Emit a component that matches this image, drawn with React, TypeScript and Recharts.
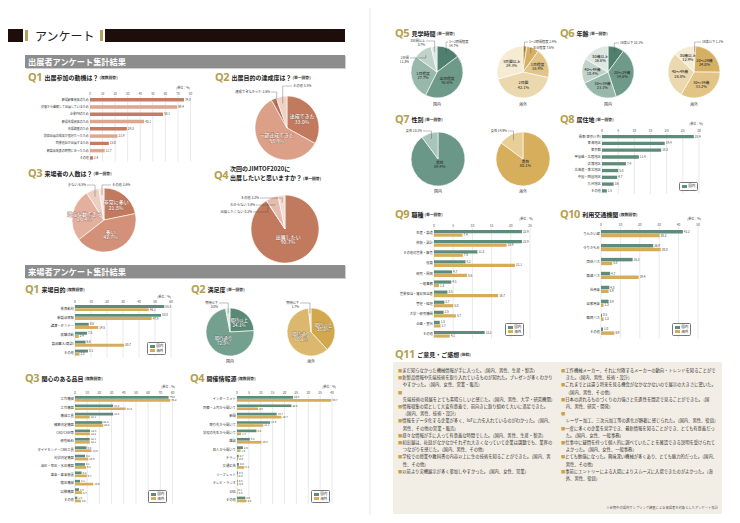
import React from 'react';
import { BarChart, Bar, XAxis, YAxis, CartesianGrid, LabelList, Cell, PieChart, Pie } from 'recharts';

const FONT = '"Noto Sans CJK JP", "Noto Sans", sans-serif';
const GREEN = '#5e8c7b';
const GOLD = '#d5ac5a';
const SAL_D = '#c47c62';
const SAL_L = '#dfa58d';
const QCOL = '#b3a04f';

// ---------------- data ----------------
const exQ1Cats = ['新規顧客開拓のため', '従来から継続して出展しているため', '企業PRのため', '新規市場開拓のため', '市場調査のため', '前回出展の成果が良好だったため', '同業他社が出展するため', '新製品発表の時期に合ったため', 'その他'];
const exQ1Vals = [74.8, 69.4, 58.1, 43.1, 29.3, 21.9, 15.0, 11.7, 2.4];

const exQ2Names = ['達成できた', '一部達成できた', '達成できなかった', 'その他'];
const exQ2Vals = [33.0, 58.9, 2.6, 5.5];

const exQ3Names = ['非常に多い', '多い', '適当な数である', '少ない', 'その他'];
const exQ3Vals = [21.8, 42.7, 26.4, 6.5, 2.6];

const exQ4Names = ['出展したい', '出展したくない', 'わからない', 'その他'];
const exQ4Vals = [90.7, 0.2, 5.8, 3.3];

const vQ1Cats = ['業界動向', '新製品情報', '講演・セミナー', '就職活動', '製品購入(商談)', 'その他'];
const vQ1Dom = [55.8, 53.8, 8.6, 7.5, 6.6, 8.1];
const vQ1Ovs = [46.1, 47.9, 14.5, 2.4, 30.7, 2.8];

const vQ2Names = ['期待以上', '期待通り', '期待以下'];
const vQ2Dom = [24.1, 72.9, 3.0];
const vQ2Ovs = [38.2, 60.1, 1.7];

const vQ3Cats = ['工作機械', '工作機器', '機械工具', '精密測定機器', 'CAD/CAM等', '研削砥石', 'ダイヤモンド・CBN工具', '光学測定機器', '油圧・空圧・水圧機器', '歯車・歯車装置', '鍛圧機械', '試験機器', 'その他'];
const vQ3Dom = [76.8, 31.3, 31.3, 22.4, 12.3, 12.1, 9.4, 8.2, 8.1, 5.4, 4.1, 3.3, 1.9];
const vQ3Ovs = [78.2, 41.6, 12.1, 23.2, 12.2, 12.1, 13.5, 10.9, 9.1, 9.7, 15.0, 5.7, 4.8];

const vQ4Cats = ['インターネット', '同僚・上司から聞いて', '新聞', '取引先から聞いて', '学校の先生から聞いて', '雑誌', '知人から聞いて', 'チラシ', '交通広告', 'リーフレット', 'テレビ・ラジオ', 'SNS', 'その他'];
const vQ4Dom = [23.6, 22.9, 16.7, 13.9, 8.2, 5.4, 2.5, 0.7, 0.8, 0.4, 0.3, 0.1, 3.5];
const vQ4Ovs = [39.7, 8.9, 18.7, 11.1, 1.7, 10.3, 1.5, 0.5, 3.1, 0.3, 0.5, 0.3, 4.0];

const q5Names = ['1～2時間程度', '半日程度', '1日程度', '2日間', '3日間以上'];
const q5Dom = [14.7, 42.6, 27.7, 11.3, 3.7];
const q5Ovs = [2.4, 7.6, 18.4, 42.1, 29.3];

const q6Names = ['19歳以下', '20～29歳', '30～39歳', '40～49歳', '50歳以上'];
const q6Dom = [10.1, 34.8, 23.1, 15.4, 16.6];
const q6Ovs = [1.1, 24.0, 33.2, 28.8, 12.9];

const q7Names = ['男性', '女性'];
const q7Dom = [89.9, 10.1];
const q7Ovs = [85.1, 14.9];

const q8Cats = ['関東(東京以外)', '東海地区', '東京都', '甲信越・北陸地区', '近畿地区', '北海道・東北地区', '中国・四国地区', '九州地区', 'その他'];
const q8Vals = [28.4, 19.4, 18.3, 11.4, 7.4, 5.0, 4.7, 3.6, 1.5];

const q9Cats = ['生産・製造', '技術・設計', 'その他の営業・販売', '役員', '研究・開発', '一般事務', '営業担当・貿易担当者', '管理・経理', '大学・研究機関', '企画・宣伝', 'その他'];
const q9Dom = [22.9, 22.9, 11.3, 8.2, 4.7, 4.5, 3.5, 2.7, 2.5, 1.5, 13.2];
const q9Ovs = [7.4, 18.9, 7.5, 21.1, 8.6, 1.3, 16.7, 5.0, 5.7, 1.7, 4.1];

const q10Cats = ['りんかい線', 'ゆりかもめ', '団体バス', '路線バス', '社用車', '自家用車', '臨時バス', 'その他'];
const q10Dom = [42.2, 26.9, 16.3, 4.7, 4.3, 3.9, 0.5, 1.0];
const q10Ovs = [30.2, 30.8, 5.8, 19.4, 3.9, 1.3, 1.3, 6.9];

const ticks80 = [0, 10, 20, 30, 40, 50, 60, 70, 80];
const ticks60 = [0, 10, 20, 30, 40, 50, 60];
const ticks40 = [0, 5, 10, 15, 20, 25, 30, 35, 40];
const ticks30 = [0, 5, 10, 15, 20, 25, 30];
const ticks25 = [0, 5, 10, 15, 20, 25];
const ticks50 = [0, 10, 20, 30, 40, 50];

const commentsLeft = [
  'まだ知らなかった機械情報が手に入った。（国内、男性、生産・製造）',
  '新製品情報や先端技術を取り入れているものが知れた。プレゼンが多くわかりやすかった。（国内、女性、営業・販売）',
  '先端技術の発展をとても素晴らしいと感じた。（国内、男性、大学・研究機関）',
  '情報収集の場として大変有意義で、前向きに取り組めて大いに満足できた。（国内、男性、技術・設計）',
  '情報をデータ化する企業が多く、IoTに力を入れているのがわかった。（国内、男性、その他の営業・販売）',
  '様々な情報が手に入って有意義な時間でした。（国内、男性、生産・製造）',
  '初出展は、社員がなかなかそれぞれ大きくなっていて企業は課題でも、業界のつながりを感じた。（国内、男性、その他）',
  '学校での授業や教科書の内容以上に生の技術を知ることができた。（国内、男性、その他）',
  '以前より実機展示が多く参加しやすかった。（国内、女性、営業）',
];
const commentsRight = [
  '工作機械メーカー、それに付随するメーカーの動向・トレンドを知ることができた。（国内、男性、技術・設計）',
  'これまでとは違う将来を見る機会がなかなかないので展示の大きさに驚いた。（国内、男性、その他）',
  '日本の誇れるものづくりの力強さと先進性を間近で見ることができた。（国内、男性、研究・開発）',
  'レーザー加工、三次元加工等の進化が顕著に感じられた。（国内、男性、役員）',
  '一度に多くの企業を見学でき、最新情報を知ることができ、とても有意義だった。（国内、女性、一般事務）',
  '仕事中に疑問を持って個人的に調べていたことを確認できる説明を受けられてよかった。（国内、女性、一般事務）',
  'とても勉強になった。興味深い機械が多くあり、とても魅力的だった。（国内、男性、その他）',
  '事前にエントリーによる入場によりスムーズに入場できたのがよかった。（海外、男性、役員）',
];

// ---------------- tables ----------------
const one = (cats: string[], vals: number[]) => cats.map((name, i) => ({ name, v: vals[i] }));
const two = (cats: string[], a: number[], b: number[]) => cats.map((name, i) => ({ name, dom: a[i], ovs: b[i] }));

const GREENS = ['#4f806f', '#6e9a8a', '#98b8ac', '#bfd3cb', '#dde8e3'];
const GOLDS = ['#c49a45', '#d6b062', '#e2c487', '#ecd8ae', '#f6ebd3'];

// ---------------- components ----------------
function HBar(p: any) {
  const { x0, x1, y0, y1, labelW, max, ticks, data, series, barSize, gap = 0.3, fs = 3.3, vfs = 3.0, cellColors } = p;
  const mr = 12;
  const left = x0 - labelW - 1;
  const top = y0 - 9;
  const width = x1 - left + mr;
  const height = y1 - top + 1;
  return (
    <div style={{ position: 'absolute', left, top, width, height }}>
      <BarChart width={width} height={height} data={data} layout="vertical"
        margin={{ top: 0, right: mr, bottom: 1, left: 1 }} barGap={gap}>
        <CartesianGrid horizontal={false} stroke="#c8c8c8" strokeWidth={0.4} />
        <XAxis type="number" orientation="top" domain={[0, max]} ticks={ticks} height={9}
          axisLine={false} tickLine={false} tickSize={0} tickMargin={1.5} interval={0}
          tick={{ fontSize: fs, fill: '#555', fontFamily: FONT }} />
        <YAxis type="category" dataKey="name" width={labelW} axisLine={false} tickLine={false}
          tickSize={0} tickMargin={1.2} interval={0} tick={{ fontSize: fs, fill: '#333', fontFamily: FONT }} />
        {series.map((s: any) => (
          <Bar key={s.key} dataKey={s.key} fill={s.color} barSize={barSize} isAnimationActive={false}>
            {cellColors ? data.map((_: any, j: number) => <Cell key={j} fill={cellColors[j % cellColors.length]} />) : null}
            <LabelList dataKey={s.key} position="right" offset={1} fill="#444" fontSize={vfs} fontFamily={FONT}
              formatter={(v: any) => Number(v).toFixed(1)} />
          </Bar>
        ))}
      </BarChart>
    </div>
  );
}

function PieBlock(p: any) {
  const { cx, cy, r, names, values, colors, cfg, inColor = '#333', inStroke, fs = 4, ofs = 3.4, stroke = '#fff' } = p;
  const W = 200, H = 2 * r + 80;
  const pcx = W / 2, pcy = H / 2;
  const data = names.map((name: string, i: number) => ({ name, value: values[i] }));
  const RAD = Math.PI / 180;
  const render = (lp: any) => {
    const c = cfg[lp.index];
    if (!c) return null;
    const ang = -lp.midAngle * RAD;
    const name = names[lp.index];
    const val = values[lp.index].toFixed(1) + '%';
    if (c.t === 'in') {
      const x = lp.cx + r * c.rf * Math.cos(ang) + (c.ox || 0);
      const y = lp.cy + r * c.rf * Math.sin(ang) + (c.oy || 0);
      return (
        <text x={x} y={y} textAnchor="middle" fontSize={fs} fontFamily={FONT} fill={inColor}
          stroke={inStroke || 'none'} strokeWidth={inStroke ? 0.35 : 0} paintOrder="stroke" fontWeight={500}>
          <tspan x={x} dy="-0.15em">{name}</tspan>
          <tspan x={x} dy="1.1em">{val}</tspan>
        </text>
      );
    }
    const sr = c.sr || 0.78;
    const sx = lp.cx + r * sr * Math.cos(ang);
    const sy = lp.cy + r * sr * Math.sin(ang);
    const tx = lp.cx + c.dx;
    const ty = lp.cy + c.dy;
    const ex = c.anchor === 'end' ? tx + 1 : tx - 1;
    return (
      <g>
        <polyline points={`${ex},${ty} ${sx},${ty} ${sx},${sy}`} fill="none" stroke="#444" strokeWidth={0.35} />
        {c.two ? (
          <text x={tx} y={ty} textAnchor={c.anchor} fontSize={ofs} fontFamily={FONT} fill="#333">
            <tspan x={tx} dy="0.35em">{name}</tspan>
            <tspan x={tx} dy="1.15em">{val}</tspan>
          </text>
        ) : (
          <text x={tx} y={ty} dy="0.35em" textAnchor={c.anchor} fontSize={ofs} fontFamily={FONT} fill="#333">{name + ' ' + val}</text>
        )}
      </g>
    );
  };
  return (
    <div style={{ position: 'absolute', left: cx - pcx, top: cy - pcy, width: W, height: H }}>
      <PieChart width={W} height={H} margin={{ top: 0, right: 0, bottom: 0, left: 0 }}>
        <Pie data={data} dataKey="value" nameKey="name" cx={pcx} cy={pcy} outerRadius={r} innerRadius={0}
          startAngle={90} endAngle={-270} stroke={stroke} strokeWidth={0.6} isAnimationActive={false}
          label={render} labelLine={false}>
          {data.map((_: any, i: number) => <Cell key={i} fill={colors[i]} />)}
        </Pie>
      </PieChart>
    </div>
  );
}

function Title({ x, y, q, text, sub, fsT = 6 }: any) {
  return (
    <div style={{ position: 'absolute', left: x, top: y - 7, height: 14, display: 'flex', alignItems: 'center', whiteSpace: 'nowrap', fontFamily: FONT }}>
      <span style={{ fontSize: 11, color: QCOL, fontWeight: 700, letterSpacing: -0.5, marginRight: 2.5, lineHeight: '14px', fontFamily: '"Noto Sans", sans-serif' }}>{q}</span>
      <span style={{ fontSize: fsT, fontWeight: 700, color: '#222' }}>{text}</span>
      <span style={{ fontSize: 3.8, fontWeight: 700, color: '#333', marginLeft: 1 }}>{sub}</span>
    </div>
  );
}

function Txt({ x, y, children, fs = 3.3, color = '#444', anchor = 'start', weight = 400 }: any) {
  const tr = anchor === 'middle' ? 'translate(-50%,-50%)' : anchor === 'end' ? 'translate(-100%,-50%)' : 'translate(0,-50%)';
  return (
    <div style={{ position: 'absolute', left: x, top: y, transform: tr, fontSize: fs, color, fontFamily: FONT, whiteSpace: 'nowrap', lineHeight: 1, fontWeight: weight }}>{children}</div>
  );
}

function LegendBox({ x, y, items }: any) {
  return (
    <div style={{ position: 'absolute', left: x, top: y, border: '0.5px solid #777', borderRadius: 1.5, padding: '1px 1.6px', background: '#fff', fontFamily: FONT, fontSize: 3.6, lineHeight: '4.6px', color: '#333' }}>
      {items.map((it: any) => (
        <div key={it.label} style={{ display: 'flex', alignItems: 'center', whiteSpace: 'nowrap' }}>
          <span style={{ width: 5.5, height: 2.8, background: it.color, marginRight: 1.2, display: 'inline-block' }} />{it.label}
        </div>
      ))}
    </div>
  );
}

function Banner({ y, text }: any) {
  return (
    <div style={{ position: 'absolute', left: 25, top: y, width: 320, height: 12.5, background: '#8d8d8d', color: '#fff', fontFamily: FONT, fontSize: 8.2, fontWeight: 700, lineHeight: '12.5px', paddingLeft: 3, boxSizing: 'border-box', boxShadow: '1px 1px 0 #cfcfcf' }}>{text}</div>
  );
}

const LEG2 = [{ label: '国内', color: GREEN }, { label: '海外', color: GOLD }];

export default function App() {
  const exQ2Cfg = [
    { t: 'in', rf: 0.55 },
    { t: 'in', rf: 0.45 },
    { t: 'out', dx: -17, dy: -36, anchor: 'end' },
    { t: 'out', dx: 6, dy: -42, anchor: 'start' },
  ];
  const exQ3Cfg = [
    { t: 'in', rf: 0.6 },
    { t: 'in', rf: 0.5 },
    { t: 'in', rf: 0.62 },
    { t: 'out', dx: -18, dy: -35, anchor: 'end' },
    { t: 'out', dx: 8, dy: -35, anchor: 'start' },
  ];
  const exQ4Cfg = [
    { t: 'in', rf: 0.32 },
    { t: 'out', dx: -33, dy: -17, anchor: 'end', sr: 0.92 },
    { t: 'out', dx: -30, dy: -24, anchor: 'end' },
    { t: 'out', dx: -26, dy: -31, anchor: 'end' },
  ];
  const vQ2Cfg = [
    { t: 'in', rf: 0.55 },
    { t: 'in', rf: 0.45 },
    { t: 'out', dx: -12, dy: -29, anchor: 'end', two: true },
  ];
  const q5DomCfg = [
    { t: 'out', dx: 12, dy: -30, anchor: 'start', two: true },
    { t: 'in', rf: 0.5 },
    { t: 'in', rf: 0.55 },
    { t: 'out', dx: -28, dy: -14, anchor: 'end', two: true },
    { t: 'out', dx: -12, dy: -31, anchor: 'end', two: true },
  ];
  const q5OvsCfg = [
    { t: 'out', dx: 6, dy: -30, anchor: 'start' },
    { t: 'out', dx: 10, dy: -24, anchor: 'start' },
    { t: 'in', rf: 0.6 },
    { t: 'in', rf: 0.5 },
    { t: 'in', rf: 0.55 },
  ];
  const q6DomCfg = [
    { t: 'out', dx: 12, dy: -29, anchor: 'start' },
    { t: 'in', rf: 0.55 },
    { t: 'in', rf: 0.55 },
    { t: 'in', rf: 0.6 },
    { t: 'in', rf: 0.6 },
  ];
  const q6OvsCfg = [
    { t: 'out', dx: 8, dy: -30, anchor: 'start' },
    { t: 'in', rf: 0.55 },
    { t: 'in', rf: 0.55 },
    { t: 'in', rf: 0.55 },
    { t: 'in', rf: 0.6 },
  ];
  const q7Cfg = [
    { t: 'in', rf: 0.2 },
    { t: 'out', dx: -16, dy: -28, anchor: 'end' },
  ];

  return (
    <div style={{ position: 'relative', width: 740, height: 523, background: '#fff', overflow: 'hidden', fontFamily: FONT, margin: -8 }}>
      {/* top bars */}
      <div style={{ position: 'absolute', left: 0, top: 0, width: 369, height: 7, background: '#8a8a8a' }} />
      <div style={{ position: 'absolute', left: 371, top: 0, width: 369, height: 7, background: '#8a8a8a' }} />
      <div style={{ position: 'absolute', left: 369, top: 0, width: 2, height: 523, background: 'linear-gradient(90deg,#eee,#f8f8f8)' }} />

      {/* header */}
      <div style={{ position: 'absolute', left: 0, top: 29, width: 23, height: 13, background: '#1d0e0b' }} />
      <div style={{ position: 'absolute', left: 25, top: 30, width: 2.5, height: 11, background: '#b7a058' }} />
      <div style={{ position: 'absolute', left: 35, top: 28, fontSize: 12, lineHeight: '15px', color: '#222', fontFamily: FONT }}>アンケート</div>
      <div style={{ position: 'absolute', left: 100, top: 30, width: 2.5, height: 11, background: '#b7a058' }} />
      <div style={{ position: 'absolute', left: 105, top: 29, width: 240, height: 13, background: '#1d0e0b' }} />

      <Banner y={55} text="出展者アンケート集計結果" />

      {/* Exhibitor Q1 */}
      <Title x={28} y={77} q="Q1" text="出展参加の動機は？" sub="(複数回答)" />
      <Txt x={190} y={88} fs={3} anchor="end">(単位：%)</Txt>
      <HBar x0={90} x1={190.5} y0={95.5} y1={161} labelW={62} max={80} ticks={ticks80}
        data={one(exQ1Cats, exQ1Vals)} series={[{ key: 'v', color: SAL_D }]} cellColors={[SAL_D, SAL_L]}
        barSize={3.4} fs={3} vfs={3} />

      {/* Exhibitor Q2 */}
      <Title x={215} y={77} q="Q2" text="出展目的の達成度は？" sub="(単一回答)" />
      <PieBlock cx={287} cy={128} r={32} names={exQ2Names} values={exQ2Vals}
        colors={['#c27a5f', '#dca088', '#b9735a', '#f0d2c5']} cfg={exQ2Cfg} inColor="#fff" inStroke="#8a4a36" fs={5} ofs={3.3} />

      {/* Exhibitor Q3 */}
      <Title x={28} y={173} q="Q3" text="来場者の人数は？" sub="(単一回答)" />
      <PieBlock cx={104} cy={220} r={32} names={exQ3Names} values={exQ3Vals}
        colors={['#c27a5f', '#d4917a', '#e2b09d', '#edcfc2', '#f6e6de']} cfg={exQ3Cfg} inColor="#fff" inStroke="#8a4a36" fs={5} ofs={3.3} />

      {/* Exhibitor Q4 */}
      <div style={{ position: 'absolute', left: 214, top: 168, fontSize: 11, color: QCOL, fontWeight: 700, fontFamily: '"Noto Sans", sans-serif', lineHeight: '14px', letterSpacing: -0.5 }}>Q4</div>
      <div style={{ position: 'absolute', left: 230, top: 165, fontSize: 6, fontWeight: 700, color: '#222', fontFamily: FONT, lineHeight: '8.5px', whiteSpace: 'nowrap' }}>
        次回のJIMTOF2020に<br />出展したいと思いますか？<span style={{ fontSize: 3.8, marginLeft: 1 }}>(単一回答)</span>
      </div>
      <PieBlock cx={285} cy={229} r={34} names={exQ4Names} values={exQ4Vals}
        colors={['#c27a5f', '#d8998a', '#e6bcae', '#f3ddd4']} cfg={exQ4Cfg} inColor="#fff" inStroke="#8a4a36" fs={5} ofs={3.3} />

      <Banner y={265} text="来場者アンケート集計結果" />

      {/* Visitor Q1 */}
      <Title x={25} y={289} q="Q1" text="来場目的" sub="(複数回答)" />
      <Txt x={171} y={297} fs={3} anchor="end">(単位：%)</Txt>
      <HBar x0={74.5} x1={170.5} y0={304} y1={357.5} labelW={45} max={60} ticks={ticks60}
        data={two(vQ1Cats, vQ1Dom, vQ1Ovs)} series={[{ key: 'dom', color: GREEN }, { key: 'ovs', color: GOLD }]}
        barSize={2.9} />
      <LegendBox x={147} y={342} items={LEG2} />

      {/* Visitor Q2 */}
      <Title x={191} y={289} q="Q2" text="満足度" sub="(単一回答)" />
      <PieBlock cx={230} cy={332} r={24} names={vQ2Names} values={vQ2Dom}
        colors={['#5b8978', '#74a090', '#dfe9e5']} cfg={vQ2Cfg} inColor="#fff" inStroke="#2f5447" fs={4.4} ofs={3.2} />
      <PieBlock cx={311} cy={332} r={24} names={vQ2Names} values={vQ2Ovs}
        colors={['#d2a84f', '#dcb86e', '#f2e3c1']} cfg={vQ2Cfg} inColor="#fff" inStroke="#7a5a1c" fs={4.4} ofs={3.2} />
      <Txt x={230} y={361} fs={4} anchor="middle" color="#333">国内</Txt>
      <Txt x={311} y={361} fs={4} anchor="middle" color="#333">海外</Txt>

      {/* Visitor Q3 */}
      <Title x={25} y={378} q="Q3" text="関心のある品目" sub="(複数回答)" />
      <Txt x={175} y={387} fs={3} anchor="end">(単位：%)</Txt>
      <HBar x0={74.5} x1={172} y0={395} y1={504} labelW={50} max={80} ticks={ticks80}
        data={two(vQ3Cats, vQ3Dom, vQ3Ovs)} series={[{ key: 'dom', color: GREEN }, { key: 'ovs', color: GOLD }]}
        barSize={2.7} gap={0.3} vfs={2.7} />
      <LegendBox x={148} y={490} items={LEG2} />

      {/* Visitor Q4 */}
      <Title x={190} y={378} q="Q4" text="開催情報源" sub="(複数回答)" />
      <Txt x={336} y={387} fs={3} anchor="end">(単位：%)</Txt>
      <HBar x0={237} x1={332} y0={395} y1={504} labelW={50} max={40} ticks={ticks40}
        data={two(vQ4Cats, vQ4Dom, vQ4Ovs)} series={[{ key: 'dom', color: GREEN }, { key: 'ovs', color: GOLD }]}
        barSize={2.7} gap={0.3} vfs={2.7} />
      <LegendBox x={311} y={490} items={LEG2} />

      {/* ---------- right page ---------- */}
      <Title x={395} y={33} q="Q5" text="見学時間" sub="(単一回答)" />
      <PieBlock cx={437} cy={72} r={26} names={q5Names} values={q5Dom} colors={GREENS} cfg={q5DomCfg} fs={3.8} ofs={3.2} />
      <PieBlock cx={523} cy={72} r={26} names={q5Names} values={q5Ovs} colors={GOLDS} cfg={q5OvsCfg} fs={3.8} ofs={3.2} />
      <Txt x={437} y={104} fs={4} anchor="middle" color="#333">国内</Txt>
      <Txt x={523} y={104} fs={4} anchor="middle" color="#333">海外</Txt>

      <Title x={560} y={33} q="Q6" text="年齢" sub="(単一回答)" />
      <PieBlock cx={608} cy={72} r={26} names={q6Names} values={q6Dom} colors={GREENS} cfg={q6DomCfg} fs={3.8} ofs={3.2} />
      <PieBlock cx={694} cy={72} r={26} names={q6Names} values={q6Ovs} colors={GOLDS} cfg={q6OvsCfg} fs={3.8} ofs={3.2} />
      <Txt x={608} y={104} fs={4} anchor="middle" color="#333">国内</Txt>
      <Txt x={694} y={104} fs={4} anchor="middle" color="#333">海外</Txt>

      <Title x={395} y={119} q="Q7" text="性別" sub="(単一回答)" />
      <PieBlock cx={438} cy={159} r={27} names={q7Names} values={q7Dom} colors={['#6a9787', '#a9c4ba']} cfg={q7Cfg} fs={3.8} ofs={3.2} />
      <PieBlock cx={523} cy={159} r={27} names={q7Names} values={q7Ovs} colors={['#d6ae5c', '#e8cf98']} cfg={q7Cfg} fs={3.8} ofs={3.2} />
      <Txt x={438} y={191} fs={4} anchor="middle" color="#333">国内</Txt>
      <Txt x={523} y={191} fs={4} anchor="middle" color="#333">海外</Txt>

      <Title x={560} y={119} q="Q8" text="居住地" sub="(単一回答)" />
      <Txt x={703} y={124} fs={3} anchor="end">(単位：%)</Txt>
      <HBar x0={602} x1={699} y0={133} y1={194} labelW={42} max={30} ticks={ticks30}
        data={one(q8Cats, q8Vals)} series={[{ key: 'v', color: GREEN }]} barSize={3.3} />
      <LegendBox x={679} y={182} items={[{ label: '国内', color: GREEN }]} />

      <Title x={395} y={214} q="Q9" text="職種" sub="(単一回答)" />
      <Txt x={533} y={219} fs={3} anchor="end">(単位：%)</Txt>
      <HBar x0={434} x1={530} y0={227.5} y1={338.5} labelW={52} max={25} ticks={ticks25}
        data={two(q9Cats, q9Dom, q9Ovs)} series={[{ key: 'dom', color: GREEN }, { key: 'ovs', color: GOLD }]}
        barSize={3.2} />
      <LegendBox x={505} y={323} items={LEG2} />

      <Title x={560} y={214} q="Q10" text="利用交通機関" sub="(複数回答)" />
      <Txt x={701} y={219} fs={3} anchor="end">(単位：%)</Txt>
      <HBar x0={601} x1={698} y0={226.5} y1={338} labelW={36} max={50} ticks={ticks50}
        data={two(q10Cats, q10Dom, q10Ovs)} series={[{ key: 'dom', color: GREEN }, { key: 'ovs', color: GOLD }]}
        barSize={3.5} />
      <LegendBox x={672} y={323} items={LEG2} />

      <Title x={395} y={354} q="Q11" text="ご意見・ご感想" sub="(抜粋)" />
      <div style={{ position: 'absolute', left: 393, top: 362, width: 329, height: 152, background: '#f3eee5', borderRadius: 2 }} />
      {[commentsLeft, commentsRight].map((col, ci) => (
        <div key={ci} style={{ position: 'absolute', left: ci === 0 ? 398 : 561, top: 367, width: 156, fontFamily: FONT, fontSize: 4.3, lineHeight: '7.2px', color: '#333' }}>
          {col.map((t, i) => (
            <div key={i} style={{ paddingLeft: 4.8, textIndent: -4.8 }}>
              <span style={{ color: '#c9a04a' }}>■</span>{t}
            </div>
          ))}
        </div>
      ))}
      <Txt x={718} y={508} fs={3.3} anchor="end" color="#555">※会期中の場内サンプリング調査による来場者を対象としたアンケート集計</Txt>

      <Txt x={6} y={516} fs={4} color="#777">8</Txt>
      <Txt x={734} y={516} fs={4} color="#777" anchor="end">9</Txt>
    </div>
  );
}
